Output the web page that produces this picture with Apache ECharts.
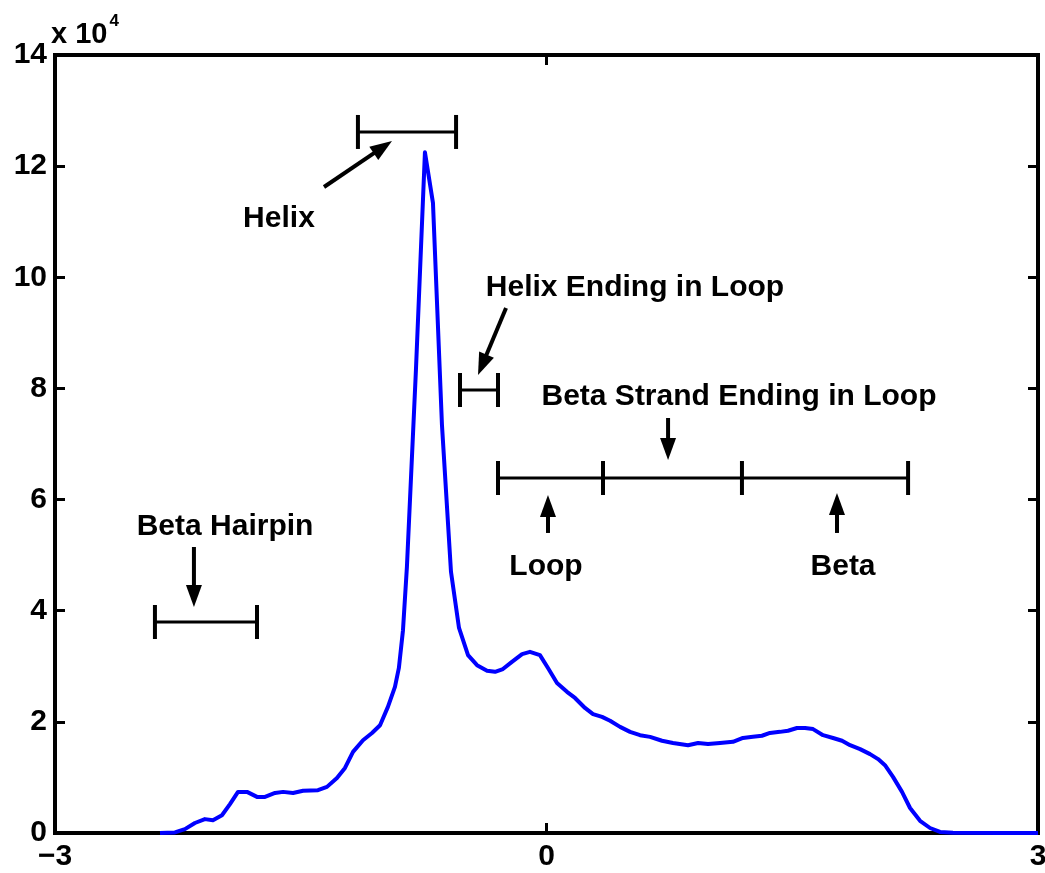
<!DOCTYPE html>
<html>
<head>
<meta charset="utf-8">
<script src="https://cdn.jsdelivr.net/npm/echarts@6/dist/echarts.min.js"></script>
<style>html,body{margin:0;padding:0;background:#fff;}#c{width:1045px;height:873px;}</style>
</head>
<body>
<div id="c"></div>
<script>
// Curve data (x, counts)
const xs = [-2.359,-2.268,-2.207,-2.146,-2.085,-2.036,-1.981,-1.932,-1.883,-1.828,
  -1.767,-1.718,-1.657,-1.608,-1.547,-1.486,-1.395,-1.340,-1.279,-1.230,
  -1.181,-1.120,-1.065,-1.016,-0.968,-0.925,-0.901,-0.876,-0.852,-0.797,
  -0.742,-0.693,-0.638,-0.583,-0.534,-0.479,-0.424,-0.363,-0.314,-0.266,
  -0.211,-0.149,-0.101,-0.040,0.009,0.064,0.125,0.174,0.235,0.284,
  0.339,0.388,0.449,0.510,0.571,0.632,0.705,0.772,0.864,0.925,
  0.986,1.059,1.138,1.199,1.260,1.315,1.364,1.425,1.474,1.529,
  1.578,1.627,1.688,1.749,1.804,1.853,1.914,1.975,2.024,2.066,
  2.115,2.170,2.219,2.280,2.341,2.402,2.481,2.768,3.0];
const ys = [0,100,700,1800,2500,2300,3200,5200,7400,7400,
  6500,6500,7200,7400,7200,7600,7700,8300,9900,11700,
  14600,16700,18000,19400,22700,26300,29700,36500,47900,83300,
  122500,113400,73400,47000,36900,32000,30200,29200,29000,29500,
  30800,32200,32600,32000,29700,27000,25400,24300,22500,21400,
  20900,20200,19100,18200,17600,17300,16600,16200,15800,16200,
  16000,16200,16400,17100,17300,17500,18000,18200,18400,18900,
  18900,18700,17600,17100,16600,15800,15100,14200,13300,12200,
  10100,7400,4500,2200,900,200,50,0,0];

// Axis ticks
const xTicks = [-3, 0, 3];
const yTicks = [0, 20000, 40000, 60000, 80000, 100000, 120000, 140000];

// Annotation ranges (end caps in x, bar level in counts)
const rangeCaps = [[-1.151,-0.552],[-0.528,-0.296],[-0.296,0.345,1.193,2.207],[-2.390,-1.767]];
const rangeY = [126150, 79720, 63880, 37970];

// Arrows
const arrowFrom = [[-1.358,116250],[-0.247,94470],[0.742,74680],[0.009,53990],[1.773,53990],[-2.152,51470]];
const arrowTo   = [[-0.943,124530],[-0.418,82420],[0.742,67120],[0.009,60820],[1.773,61180],[-2.152,40670]];

// Text labels
const labelText = ['Helix','Helix Ending in Loop','Beta Strand Ending in Loop','Loop','Beta','Beta Hairpin'];
const labelPos = [[-1.633,110490],[0.540,98070],[1.175,78460],[-0.003,47870],[1.810,47870],[-1.962,55070]];

const FONT = '"Liberation Sans", Arial, Helvetica, sans-serif';
const FS = 30;
const lineData = xs.map((x, i) => [x, ys[i]]);

function fmtX(v) { return v < 0 ? '\u2212' + Math.abs(v) : String(v); }

const axisCommon = {
  axisLine: { show: true, onZero: false, lineStyle: { color: '#000', width: 4, cap: 'square' } },
  axisTick: { show: true, inside: true, length: 10, lineStyle: { color: '#000', width: 3 } },
  splitLine: { show: false }
};

function renderRange(params, api) {
  const i = params.dataIndex;
  const pts = rangeCaps[i].map(c => api.coord([c, rangeY[i]]));
  const children = [{
    type: 'line',
    shape: { x1: pts[0][0], y1: pts[0][1], x2: pts[pts.length - 1][0], y2: pts[pts.length - 1][1] },
    style: { stroke: '#000', lineWidth: 3 }
  }];
  pts.forEach(p => children.push({
    type: 'line',
    shape: { x1: p[0], y1: p[1] - 17, x2: p[0], y2: p[1] + 17 },
    style: { stroke: '#000', lineWidth: 4 }
  }));
  return { type: 'group', children };
}

function renderArrow(params, api) {
  const i = params.dataIndex;
  const a = api.coord(arrowFrom[i]);
  const b = api.coord(arrowTo[i]);
  const dx = b[0] - a[0], dy = b[1] - a[1];
  const L = Math.hypot(dx, dy);
  const ux = dx / L, uy = dy / L;
  const hl = 22, hw = 8;
  const bx = b[0] - ux * hl, by = b[1] - uy * hl;
  return {
    type: 'group',
    children: [
      { type: 'line', shape: { x1: a[0], y1: a[1], x2: bx + ux * 2, y2: by + uy * 2 }, style: { stroke: '#000', lineWidth: 4 } },
      { type: 'polygon', shape: { points: [[b[0], b[1]], [bx - uy * hw, by + ux * hw], [bx + uy * hw, by - ux * hw]] }, style: { fill: '#000' } }
    ]
  };
}

function renderText(params, api) {
  const i = params.dataIndex;
  const p = api.coord(labelPos[i]);
  return {
    type: 'text',
    x: p[0], y: p[1],
    style: {
      text: labelText[i], fill: '#000',
      font: 'bold ' + FS + 'px ' + FONT,
      align: 'center', verticalAlign: 'middle',
      textAlign: 'center', textVerticalAlign: 'middle'
    }
  };
}

const chart = echarts.init(document.getElementById('c'), null, { renderer: 'canvas' });
chart.setOption({
  animation: false,
  backgroundColor: '#fff',
  grid: { left: 55, right: 7, top: 55, bottom: 40, containLabel: false, outerBoundsMode: 'none' },
  xAxis: [
    Object.assign({}, axisCommon, {
      type: 'value', position: 'bottom', min: xTicks[0], max: xTicks[xTicks.length - 1], interval: 3,
      axisLabel: { show: true, color: '#000', fontSize: FS, fontWeight: 'bold', fontFamily: FONT, margin: 9,
        showMinLabel: true, showMaxLabel: true, formatter: fmtX }
    }),
    Object.assign({}, axisCommon, {
      type: 'value', position: 'top', min: xTicks[0], max: xTicks[xTicks.length - 1], interval: 3,
      axisLabel: { show: false }
    })
  ],
  yAxis: [
    Object.assign({}, axisCommon, {
      type: 'value', position: 'left', min: yTicks[0], max: yTicks[yTicks.length - 1], interval: 20000,
      name: '{a|x 10}{b|4}', nameLocation: 'end', nameGap: 6, nameMoveOverlap: false,
      nameTextStyle: {
        align: 'left', verticalAlign: 'bottom', padding: [0, 0, 0, -4],
        rich: {
          a: { fontSize: 29, fontWeight: 'bold', fontFamily: FONT, color: '#000', lineHeight: 36, verticalAlign: 'bottom' },
          b: { fontSize: 17, fontWeight: 'bold', fontFamily: FONT, color: '#000', lineHeight: 36, verticalAlign: 'top', padding: [0, 0, 0, 2] }
        }
      },
      axisLabel: { show: true, color: '#000', fontSize: FS, fontWeight: 'bold', fontFamily: FONT, margin: 8,
        showMinLabel: true, showMaxLabel: true, formatter: v => String(v / 10000) }
    }),
    Object.assign({}, axisCommon, {
      type: 'value', position: 'right', min: yTicks[0], max: yTicks[yTicks.length - 1], interval: 20000,
      axisLabel: { show: false }
    })
  ],
  series: [
    {
      type: 'line', xAxisIndex: 0, yAxisIndex: 0, data: lineData,
      showSymbol: false, symbol: 'none', smooth: false,
      lineStyle: { color: '#0000ff', width: 4, join: 'round' }, z: 3
    },
    {
      type: 'custom', xAxisIndex: 0, yAxisIndex: 0, clip: false, silent: true, z: 4,
      data: rangeCaps.map((c, i) => [c[0], rangeY[i]]), renderItem: renderRange
    },
    {
      type: 'custom', xAxisIndex: 0, yAxisIndex: 0, clip: false, silent: true, z: 4,
      data: arrowFrom.map(p => p.slice()), renderItem: renderArrow
    },
    {
      type: 'custom', xAxisIndex: 0, yAxisIndex: 0, clip: false, silent: true, z: 5,
      data: labelPos.map(p => p.slice()), renderItem: renderText
    }
  ]
});
</script>
</body>
</html>
